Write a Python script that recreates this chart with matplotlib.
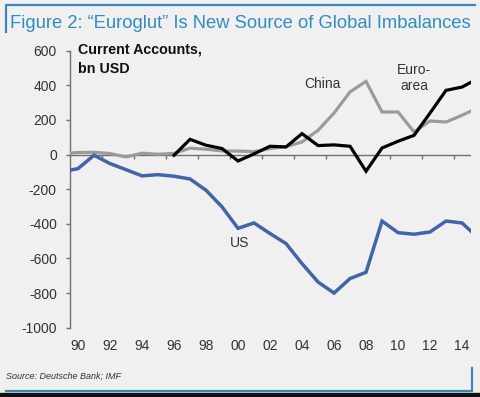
import matplotlib
matplotlib.use("Agg")
import matplotlib.pyplot as plt
from matplotlib.lines import Line2D

plt.rcParams['font.family'] = ['Liberation Sans', 'DejaVu Sans']
plt.rcParams['axes.unicode_minus'] = False

years = list(range(1989, 2016))
us = [-99, -81, -4, -52, -87, -123, -116, -125, -141, -206, -302, -426, -395, -456, -514,
      -630, -736, -800, -716, -680, -384, -451, -460, -447, -384, -395, -480]
china = [5, 12, 13, 6, -14, 8, 2, 7, 37, 31, 21, 20, 17, 35, 46,
         73, 140, 240, 362, 423, 246, 246, 131, 194, 188, 227, 270]
euro_years = list(range(1996, 2016))
euro = [-4, 88, 54, 35, -37, 4, 48, 44, 121, 52, 56, 48, -96, 38, 77, 111, 240, 371, 390, 440]

xtick_years = list(range(1990, 2015, 2))
xtick_labels = ["90", "92", "94", "96", "98", "00", "02", "04", "06", "08", "10", "12", "14"]
yticks = list(range(-1000, 601, 200))

W, H = 480, 397
fig = plt.figure(figsize=(W / 100, H / 100), dpi=100)
bg = '#f0f0f0'
fig.patch.set_facecolor(bg)

ax_l, ax_r = 70 / W, 471 / W
ax_b, ax_t = (H - 327.7) / H, (H - 50.7) / H
ax = fig.add_axes([ax_l, ax_b, ax_r - ax_l, ax_t - ax_b])
ax.set_facecolor(bg)
ax.set_xlim(1989.5, 2014.56)
ax.set_ylim(-1000, 600)

gray_axis = '#707070'
# zero line with ticks between category pairs
ax.axhline(0, color=gray_axis, lw=1.0, zorder=2)
tick_pos = [y + 0.5 for y in range(1991, 2014, 2)]
ax.vlines(tick_pos, -24, 0, color=gray_axis, lw=1.0, zorder=2)

ax.plot(years, china, color='#9b9b9b', lw=2.3, solid_joinstyle='miter', zorder=3)
ax.plot(euro_years, euro, color='#000000', lw=2.3, solid_joinstyle='miter', zorder=4)
ax.plot(years, us, color='#3f66a8', lw=2.5, solid_joinstyle='miter', zorder=3)

for s in ['top', 'right', 'bottom']:
    ax.spines[s].set_visible(False)
ax.spines['left'].set_color(gray_axis)
ax.spines['left'].set_linewidth(1.0)
ax.set_yticks(yticks)
ax.tick_params(axis='y', length=3, width=1, color=gray_axis, pad=6.5,
               labelsize=10, labelcolor='#333333')
ax.set_xticks(xtick_years)
ax.set_xticklabels(xtick_labels)
ax.tick_params(axis='x', length=0, pad=8, labelsize=10, labelcolor='#333333')

def px(x, y):
    return (x / W, 1 - y / H)

fig.text(*px(78, 50), "Current Accounts,", fontsize=10.3, fontweight='bold',
         va='center', ha='left', color='#111111')
fig.text(*px(78, 69), "bn USD", fontsize=10.3, fontweight='bold',
         va='center', ha='left', color='#111111')
ax.text(2005.3, 410, "China", fontsize=10, color='#333333', ha='center', va='center')
ax.text(2011.0, 440, "Euro-\narea", fontsize=10, color='#333333', ha='center',
        va='center', linespacing=1.2)
ax.text(2000.1, -510, "US", fontsize=10, color='#333333', ha='center', va='center')

# title and frame
blue = '#3a87b9'
fig.text(*px(10, 23), "Figure 2: \u201cEuroglut\u201d Is New Source of Global Imbalances",
         fontsize=13.2, color='#2f8cc4', ha='left', va='center')
fig.text(*px(6, 376), "Source: Deutsche Bank; IMF", fontsize=6.5,
         style='italic', color='#333333', ha='left', va='center')

def fline(xs, ys, **kw):
    fig.add_artist(Line2D([x / W for x in xs], [1 - y / H for y in ys],
                          transform=fig.transFigure, **kw))
fline([6, 6, 475], [32, 5, 5], color=blue, lw=1.6)
fline([6, 472, 472], [391, 391, 368], color=blue, lw=1.6)
fig.patches.append(plt.Rectangle((0, 0), 1, 4 / H, transform=fig.transFigure,
                                 color='#111111'))

fig.savefig("out.png", dpi=100, facecolor=bg)
